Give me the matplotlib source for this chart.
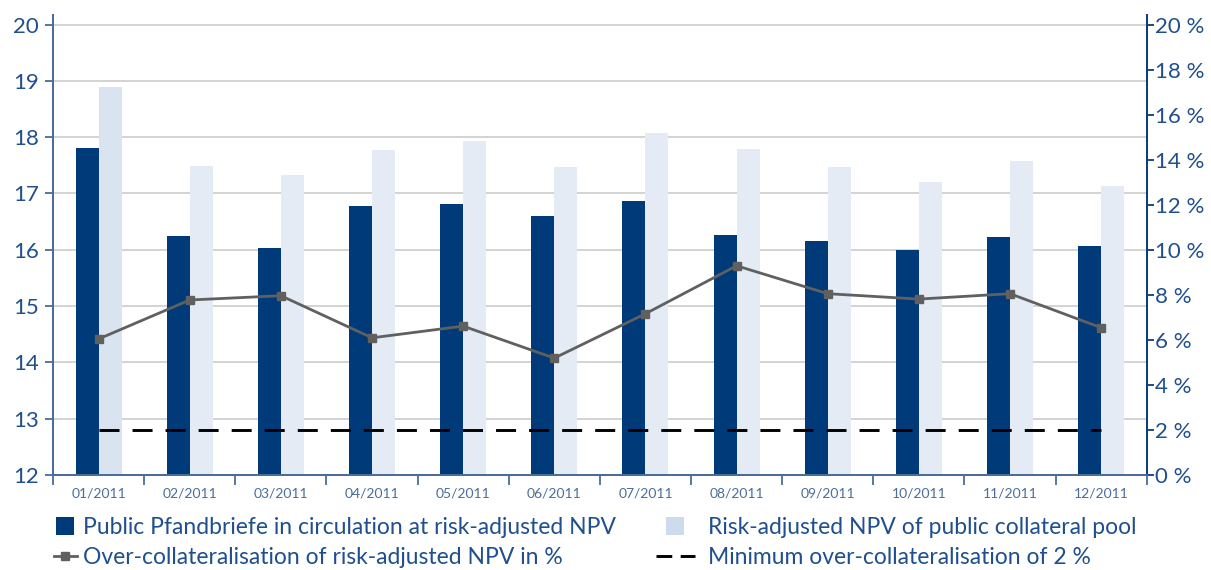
import matplotlib.pyplot as plt
import numpy as np
from matplotlib.lines import Line2D

plt.rcParams['font.family'] = ['Lato', 'DejaVu Sans']

months = ['01/2011', '02/2011', '03/2011', '04/2011', '05/2011', '06/2011',
          '07/2011', '08/2011', '09/2011', '10/2011', '11/2011', '12/2011']
# EUR bn
pfandbriefe = [17.81, 16.24, 16.03, 16.78, 16.81, 16.60,
               16.86, 16.26, 16.15, 15.99, 16.23, 16.07]
collateral = [18.89, 17.49, 17.33, 17.77, 17.93, 17.47,
              18.07, 17.79, 17.47, 17.20, 17.58, 17.13]
# percent
overcoll = [6.04, 7.77, 7.96, 6.09, 6.61, 5.19,
            7.16, 9.29, 8.05, 7.81, 8.05, 6.54]
minimum = [2.0] * 12

navy = '#003a78'
light = '#e4ebf4'
text_col = '#1f4f8e'
axis_col = '#4a6d99'

fig = plt.figure(figsize=(12.11, 5.70), dpi=100)
ax = fig.add_axes([0.0438, 0.1667, 0.9031, 0.807])
ax2 = ax.twinx()

x = np.arange(len(months))
w = 0.252
light_cols = ['#dae4f0'] + [light] * 11
ax.bar(x - w / 2, pfandbriefe, w, color=navy, zorder=2)
ax.bar(x + w / 2, collateral, w, color=light_cols, zorder=2)

ax.set_ylim(12, 20.17)
ax.set_xlim(-0.5, 11.5)
ax.set_yticks(range(12, 21))
ax.grid(axis='y', color='#d0d0d0', linewidth=1.3, zorder=0)
ax.set_axisbelow(True)

ax2.set_ylim(0, (20.17 - 12) * 2.5)
ax2.set_yticks(range(0, 21, 2))
ax2.set_yticklabels([f'{v} %' for v in range(0, 21, 2)])
ax2.plot(x, overcoll, color='#606060', linewidth=2, marker='s',
         markersize=6, zorder=3)
ax2.plot(x, minimum, color='black', linewidth=2.1, dashes=(6.86, 4.47), zorder=3)

# category boundaries as x ticks, labels in between
ax.set_xticks(np.arange(-0.5, 12, 1))
ax.set_xticklabels([])
ax.set_xticks(x, minor=True)
ax.set_xticklabels(months, minor=True, fontsize=10, color=axis_col)
ax.tick_params(axis='x', which='major', length=7, width=1.3, color=axis_col)
ax.tick_params(axis='x', which='minor', length=0, pad=9)

ax.tick_params(axis='y', length=6, width=1.3, color=axis_col,
               labelsize=16, labelcolor=text_col, pad=4)
ax2.tick_params(axis='y', length=5, width=1.3, color='#0a3c80',
                labelsize=16, labelcolor=text_col, pad=1)

for a in (ax, ax2):
    a.spines['top'].set_visible(False)
    a.spines['left'].set_color(axis_col)
    a.spines['left'].set_linewidth(1.3)
    a.spines['bottom'].set_color(axis_col)
    a.spines['bottom'].set_linewidth(1.3)
    a.spines['right'].set_color('#0a3c80')
    a.spines['right'].set_linewidth(1.3)

# legend: two columns built as two separate legends
h1 = [Line2D([], [], linestyle='none', marker='s', markersize=12.5,
             markerfacecolor=navy, markeredgewidth=0),
      Line2D([], [], color='#606060', linewidth=2, marker='s', markersize=6)]
l1 = ['Public Pfandbriefe in circulation at risk-adjusted NPV',
      'Over-collateralisation of risk-adjusted NPV in %']
h2 = [Line2D([], [], linestyle='none', marker='s', markersize=12.5,
             markerfacecolor='#ccdcec', markeredgewidth=0),
      Line2D([], [], color='black', linewidth=2.1, dashes=(5.4, 2.9))]
l2 = ['Risk-adjusted NPV of public collateral pool',
      'Minimum over-collateralisation of 2 %']
for handles, labels, xpos, hl, pad in ((h1, l1, 0.0446, 1.0, 0.26),
                                       (h2, l2, 0.5417, 1.7, 0.57)):
    leg = fig.legend(handles, labels, loc='upper left',
                     bbox_to_anchor=(xpos, 0.0935), frameon=False,
                     fontsize=16.5, handlelength=hl, handletextpad=pad,
                     labelspacing=0.42, borderaxespad=0, borderpad=0)
    for t in leg.get_texts():
        t.set_color(text_col)

fig.savefig('out.png', dpi=100)
